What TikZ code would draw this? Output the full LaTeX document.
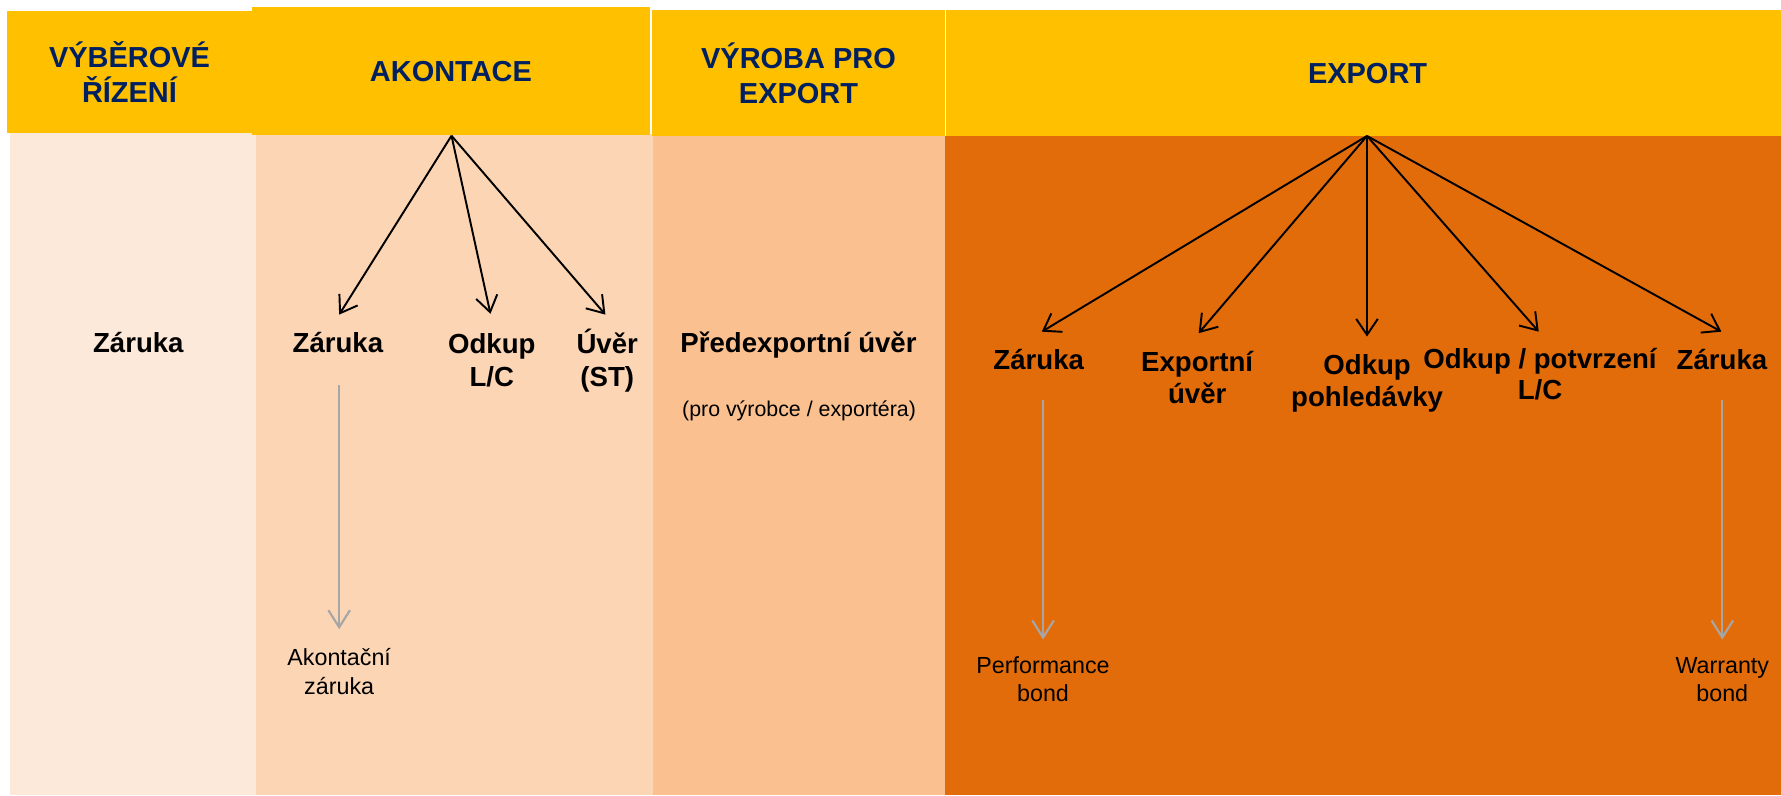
\documentclass[tikz,border=0pt]{standalone}
\usepackage{fontspec}
\setmainfont{Liberation Sans}
\usetikzlibrary{arrows.meta}
\definecolor{hdr}{HTML}{FFC000}
\definecolor{navy}{HTML}{002060}
\definecolor{bodyA}{HTML}{FDE9D9}
\definecolor{bodyB}{HTML}{FCD5B4}
\definecolor{bodyC}{HTML}{FAC090}
\definecolor{bodyD}{HTML}{E36C0A}
\definecolor{arrgray}{HTML}{A6A6A6}
\tikzset{
  hdrbox/.style={fill=hdr, inner sep=0pt, align=center, text=navy,
    font=\fontsize{25.5}{31}\selectfont\bfseries},
  bodytext/.style={inner sep=0pt, align=center, anchor=base,
    font=\fontsize{24.3}{29}\selectfont\bfseries},
  exptext/.style={inner sep=0pt, align=center, anchor=base,
    font=\fontsize{24.3}{28}\selectfont\bfseries},
  smalltext/.style={inner sep=0pt, align=center, anchor=base,
    font=\fontsize{20.5}{25}\selectfont},
  tinytext/.style={inner sep=0pt, align=center, anchor=base,
    font=\fontsize{18.8}{23}\selectfont},
  blackarrow/.style={draw=black, line width=1.7pt,
    -{Straight Barb[length=14pt,width=19pt]}},
  grayarrow/.style={draw=arrgray, line width=1.9pt,
    -{Straight Barb[length=15pt,width=19pt]}}
}
\begin{document}
\begin{tikzpicture}[x=1pt,y=-1pt]
\useasboundingbox (0,0) rectangle (1568,700);
% column bodies
\fill[bodyA] (9,117) rectangle (225,700);
\fill[bodyB] (225,118) rectangle (575,700);
\fill[bodyC] (575,120) rectangle (832,700);
\fill[bodyD] (832,120) rectangle (1568,700);
% headers
\node[hdrbox, minimum width=216pt, minimum height=107.3pt] (h1) at (114,63.35) {VÝBĚROVÉ\\ŘÍZENÍ};
\node[hdrbox, minimum width=350pt, minimum height=112.6pt] (h2) at (397,62.7) {AKONTACE};
\node[hdrbox, minimum width=258pt, minimum height=111.2pt] (h3) at (703,64.4) {VÝROBA PRO\\EXPORT};
\node[hdrbox, minimum width=735pt, minimum height=111.2pt] (h4) at (1200.5,64.4) {\hspace*{7pt}EXPORT};
% body texts (multi-line nodes are placed at the baseline of their last line)
\node[bodytext] (z1) at (121.8,310) {Záruka};
\node[bodytext] (zA) at (297.5,310) {Záruka};
\node[bodytext] (oLC) at (433,340) {Odkup\\L/C};
\node[bodytext] (uST) at (534.6,340) {Úvěr\\(ST)};
\node[smalltext] (ak) at (298.6,611) {Akontační\\záruka};
\node[bodytext] (pre) at (703,310) {Předexportní úvěr};
\node[tinytext] (prov) at (703.5,366.7) {(pro výrobce / exportéra)};
\node[exptext] (zE) at (914.5,325) {Záruka};
\node[exptext] (eu) at (1054,355) {Exportní\\úvěr};
\node[exptext] (op) at (1203.6,358) {Odkup\\pohledávky};
\node[exptext] (opt) at (1355.8,352) {Odkup / potvrzení\\L/C};
\node[exptext] (zR) at (1516,325) {Záruka};
\node[smalltext] (pb) at (918.3,618) {Performance\\bond};
\node[smalltext] (wb) at (1516.3,618) {Warranty\\bond};
% arrow end points
\coordinate (oA) at (397.5,119.5);
\coordinate (oE) at (1203.5,119.7);
\coordinate (tA1) at (298.6,277);
\coordinate (tA2) at (431.8,276.3);
\coordinate (tA3) at (533,277);
\coordinate (tE1) at (917.2,292);
\coordinate (tE2) at (1055.3,293.3);
\coordinate (tE3) at (1203.5,296.3);
\coordinate (tE4) at (1354.7,292);
\coordinate (tE5) at (1515.5,292);
\coordinate (g1s) at (298.6,339);
\coordinate (g1e) at (298.6,554);
\coordinate (g2s) at (918.3,352);
\coordinate (g2e) at (918.3,563);
\coordinate (g3s) at (1516.3,352);
\coordinate (g3e) at (1516.3,563);
% black arrows
\draw[blackarrow] (oA) -- (tA1);
\draw[blackarrow] (oA) -- (tA2);
\draw[blackarrow] (oA) -- (tA3);
\draw[blackarrow] (oE) -- (tE1);
\draw[blackarrow] (oE) -- (tE2);
\draw[blackarrow] (oE) -- (tE3);
\draw[blackarrow] (oE) -- (tE4);
\draw[blackarrow] (oE) -- (tE5);
% gray arrows
\draw[grayarrow] (g1s) -- (g1e);
\draw[grayarrow] (g2s) -- (g2e);
\draw[grayarrow] (g3s) -- (g3e);
\end{tikzpicture}
\end{document}
